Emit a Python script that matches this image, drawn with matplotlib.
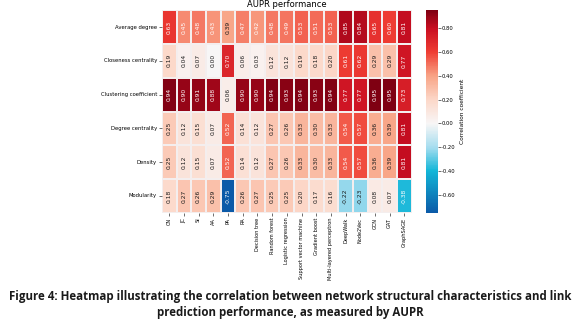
import numpy as np
import matplotlib
matplotlib.use("Agg")
import matplotlib.pyplot as plt
from matplotlib.colors import LinearSegmentedColormap
import seaborn as sns

# Data
features = ["Average degree", "Closeness centrality", "Clustering coefficient",
            "Degree centrality", "Density", "Modularity"]
methods = ["CN", "JC", "SI", "AA", "PA", "RA", "Decision tree", "Random forest",
           "Logistic regression", "Support vector machine", "Gradient boost",
           "Multi-layered perceptron", "DeepWalk", "Node2Vec", "GCN", "GAT", "GraphSAGE"]

avg_degree = [0.63, 0.45, 0.48, 0.43, 0.39, 0.47, 0.42, 0.48, 0.49, 0.53, 0.51, 0.53, 0.85, 0.84, 0.65, 0.60, 0.81]
closeness = [0.19, 0.04, 0.07, 0.00, 0.70, 0.06, 0.03, 0.12, 0.12, 0.19, 0.18, 0.20, 0.61, 0.62, 0.29, 0.29, 0.77]
clustering = [0.94, 0.90, 0.91, 0.88, 0.06, 0.90, 0.90, 0.94, 0.93, 0.94, 0.93, 0.94, 0.77, 0.77, 0.95, 0.95, 0.73]
degree_cent = [0.25, 0.12, 0.15, 0.07, 0.52, 0.14, 0.12, 0.27, 0.26, 0.33, 0.30, 0.33, 0.54, 0.57, 0.36, 0.39, 0.81]
density = [0.25, 0.12, 0.15, 0.07, 0.52, 0.14, 0.12, 0.27, 0.26, 0.33, 0.30, 0.33, 0.54, 0.57, 0.36, 0.39, 0.81]
modularity = [0.18, 0.27, 0.26, 0.29, -0.75, 0.26, 0.27, 0.25, 0.25, 0.20, 0.17, 0.16, -0.22, -0.23, 0.08, 0.07, -0.38]

data = np.array([avg_degree, closeness, clustering, degree_cent, density, modularity])

vmin, vmax = -0.75, 0.95
def pos(v):
    return (v - vmin) / (vmax - vmin)

cmap = LinearSegmentedColormap.from_list("corr", [
    (0.0, "#0b5aa8"),
    (pos(-0.40), "#12b6d8"),
    (pos(-0.20), "#a6ddef"),
    (pos(0.00), "#f8f6f6"),
    (pos(0.20), "#fcd7c8"),
    (pos(0.40), "#f8a385"),
    (pos(0.60), "#ef3d33"),
    (pos(0.80), "#c90e21"),
    (1.0, "#7f0012"),
])

fig = plt.figure(figsize=(5.8, 3.27), dpi=100)
ax = fig.add_axes([0.279, 0.349, 0.431, 0.62])
cax = fig.add_axes([0.734, 0.349, 0.021, 0.62])

sns.heatmap(data, ax=ax, cbar_ax=cax, cmap=cmap, vmin=vmin, vmax=vmax,
            annot=True, fmt=".2f", annot_kws={"rotation": 90, "fontsize": 4.3},
            linewidths=0.1, linecolor="#f4eeee",
            xticklabels=methods, yticklabels=features,
            cbar_kws={"ticks": [-0.6, -0.4, -0.2, 0.0, 0.2, 0.4, 0.6, 0.8]})

# text colour: white on the strong cells, black on the pale ones
for txt, v in zip(ax.texts, data.flatten()):
    txt.set_color("white" if (v > 0.40 or v < -0.30) else "#1a1a1a")

ax.set_title("AUPR performance", fontsize=6, pad=2)
ax.tick_params(axis="x", labelsize=3.6, rotation=90, length=2, width=0.4, pad=1.5)
ax.tick_params(axis="y", labelsize=3.8, rotation=0, length=2, width=0.4, pad=1.5)

cax.tick_params(labelsize=3.8, length=2, width=0.4, pad=1)
cax.yaxis.set_major_formatter(matplotlib.ticker.FormatStrFormatter("%.2f"))
cax.set_ylabel("Correlation coefficient", fontsize=4.2, labelpad=3)

caption1 = "Figure 4: Heatmap illustrating the correlation between network structural characteristics and link"
caption2 = "prediction performance, as measured by AUPR"
fig.text(0.5, 0.093, caption1, ha="center", va="center", fontsize=8.3,
         fontweight="bold", color="#1a1a1a", family="Open Sans")
fig.text(0.5, 0.043, caption2, ha="center", va="center", fontsize=8.3,
         fontweight="bold", color="#1a1a1a", family="Open Sans")

fig.savefig("out.png", dpi=100)
